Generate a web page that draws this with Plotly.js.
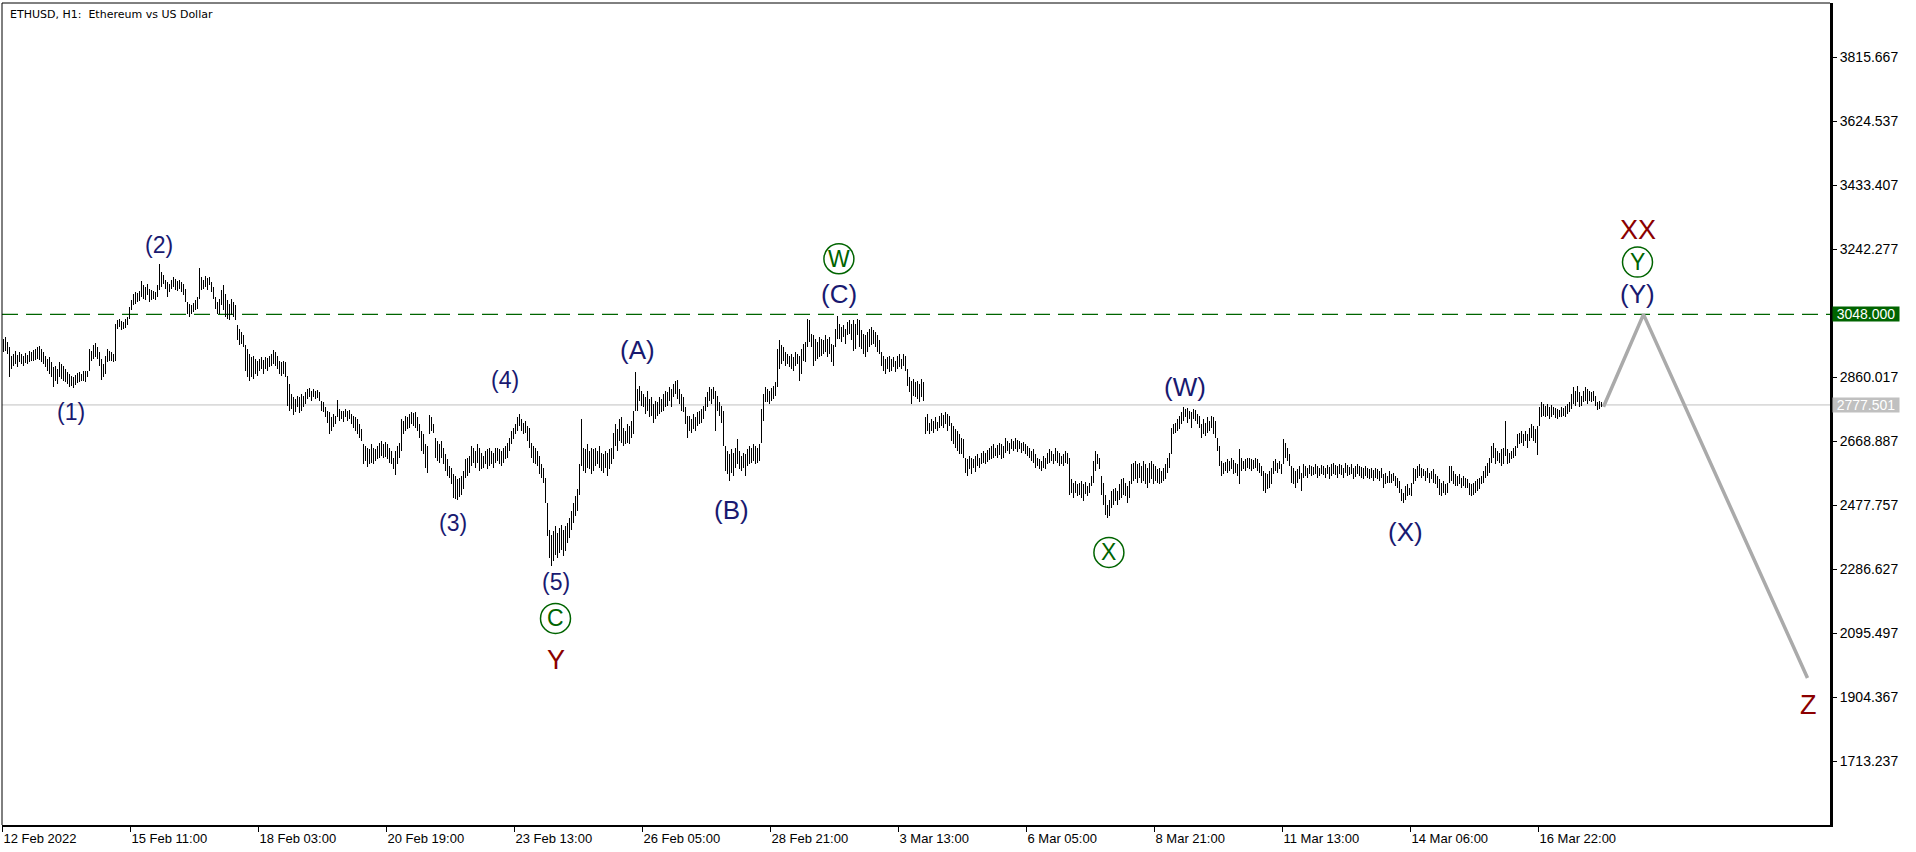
<!DOCTYPE html>
<html><head><meta charset="utf-8">
<script src="https://cdn.plot.ly/plotly-3.0.1.min.js"></script>
<style>html,body{margin:0;padding:0;background:#fff;overflow:hidden}#chart{width:1916px;height:852px}
.scatterlayer .trace:first-child path.js-line{shape-rendering:crispEdges}</style>
</head><body><div id="chart"></div>
<script>
// ETHUSD H1 bars (hourly), index 0 = first bar on the chart
const highs = [
2975,2980,2965,2950,2925,2930,2938,2928,2935,2930,2925,2932,2928,2938,2935,2942,2945,2950,2953,2945,
2935,2925,2915,2920,2905,2890,2895,2885,2905,2900,2895,2885,2875,2870,2865,2860,2868,2872,2875,2870,
2878,2880,2878,2945,2940,2955,2963,2950,2935,2915,2900,2925,2945,2940,2935,2930,3020,3030,3035,3028,
3025,3033,3040,3070,3090,3110,3115,3112,3118,3147,3135,3130,3140,3125,3120,3118,3115,3135,3197,3175,
3165,3150,3145,3140,3150,3160,3155,3148,3152,3145,3140,3125,3085,3080,3075,3082,3090,3100,3187,3160,
3150,3162,3158,3160,3145,3130,3100,3085,3095,3120,3135,3110,3090,3080,3095,3085,3075,3015,3005,2995,
2985,2955,2945,2930,2920,2925,2915,2910,2915,2920,2912,2920,2918,2925,2930,2942,2935,2925,2910,2905,
2910,2905,2865,2840,2810,2800,2795,2805,2800,2810,2805,2815,2825,2827,2820,2825,2818,2822,2815,2790,
2785,2770,2760,2755,2740,2750,2745,2793,2765,2760,2758,2765,2760,2762,2750,2745,2740,2735,2720,2705,
2660,2655,2650,2645,2660,2650,2645,2655,2665,2670,2660,2668,2662,2650,2640,2620,2640,2655,2665,2735,
2730,2745,2740,2750,2755,2752,2755,2740,2720,2700,2690,2660,2655,2747,2740,2722,2680,2670,2660,2670,
2650,2630,2615,2595,2590,2570,2565,2555,2560,2565,2580,2615,2620,2625,2655,2650,2640,2660,2650,2635,
2625,2640,2645,2650,2640,2635,2648,2650,2645,2640,2650,2655,2665,2680,2700,2710,2720,2740,2750,2735,
2725,2730,2715,2710,2665,2655,2650,2640,2625,2600,2590,2560,2485,2405,2390,2400,2415,2395,2410,2420,
2405,2415,2425,2440,2460,2485,2505,2525,2600,2735,2650,2645,2660,2640,2650,2645,2650,2640,2655,2635,
2630,2640,2635,2645,2650,2695,2720,2705,2735,2740,2710,2700,2720,2715,2730,2760,2875,2825,2835,2820,
2810,2800,2820,2795,2800,2780,2790,2785,2800,2795,2810,2820,2815,2830,2825,2840,2850,2853,2825,2810,
2800,2770,2745,2745,2735,2750,2740,2755,2760,2765,2775,2800,2815,2830,2825,2830,2820,2805,2785,2775,
2760,2655,2640,2630,2645,2635,2650,2675,2640,2625,2635,2630,2645,2655,2650,2660,2655,2650,2660,2765,
2810,2830,2825,2820,2828,2835,2845,2945,2970,2955,2950,2935,2930,2925,2930,2920,2935,2930,2925,2945,
2960,2965,3035,3030,2990,2985,2975,2965,2980,2975,2970,2985,2975,2980,2960,2955,3005,3042,3020,3010,
3015,3005,3025,3030,3020,3030,3020,3035,3030,3000,2990,2985,2995,3005,3010,3000,2995,2985,2970,2935,
2925,2915,2920,2925,2915,2920,2910,2925,2930,2915,2930,2925,2885,2860,2850,2855,2845,2850,2840,2855,
2845,2740,2750,2725,2735,2730,2740,2728,2745,2752,2748,2755,2750,2745,2725,2715,2705,2700,2690,2680,
2675,2620,2615,2625,2620,2615,2625,2630,2620,2635,2640,2635,2642,2650,2655,2660,2650,2658,2665,2660,
2655,2680,2670,2665,2675,2670,2678,2672,2670,2665,2668,2660,2655,2650,2640,2645,2630,2620,2615,2610,
2625,2620,2635,2645,2640,2630,2650,2640,2635,2625,2630,2640,2635,2620,2555,2545,2550,2540,2545,2550,
2540,2548,2535,2545,2565,2610,2640,2630,2620,2565,2545,2510,2480,2495,2520,2525,2530,2520,2540,2555,
2560,2545,2535,2550,2600,2605,2610,2600,2605,2595,2610,2600,2590,2605,2610,2600,2595,2585,2590,2580,
2590,2600,2620,2635,2710,2720,2725,2735,2745,2755,2770,2765,2768,2760,2755,2765,2762,2750,2745,2720,
2735,2725,2740,2730,2745,2740,2730,2680,2655,2610,2605,2608,2615,2610,2620,2612,2605,2600,2645,2620,
2610,2615,2620,2618,2615,2612,2618,2615,2605,2595,2580,2575,2570,2580,2590,2610,2615,2605,2610,2600,
2675,2665,2650,2630,2595,2590,2580,2585,2595,2575,2600,2595,2590,2598,2595,2592,2600,2595,2590,2597,
2595,2590,2598,2592,2600,2605,2598,2595,2602,2597,2590,2605,2598,2593,2600,2590,2595,2600,2595,2592,
2588,2595,2590,2585,2590,2583,2590,2585,2580,2588,2570,2575,2565,2580,2570,2575,2565,2560,2550,2525,
2515,2535,2540,2530,2545,2590,2585,2595,2600,2590,2585,2580,2590,2575,2580,2585,2570,2565,2555,2545,
2550,2540,2545,2595,2595,2580,2570,2565,2570,2560,2565,2560,2555,2545,2540,2545,2550,2555,2560,2565,
2580,2595,2605,2620,2655,2665,2650,2640,2635,2645,2650,2730,2645,2635,2640,2650,2655,2690,2695,2700,
2690,2700,2690,2710,2720,2715,2705,2715,2770,2785,2780,2775,2780,2770,2778,2772,2768,2765,2762,2770,
2768,2775,2780,2785,2810,2830,2820,2833,2815,2805,2820,2830,2825,2820,2815,2818,2805,2785,2790,2785
];
const lows = [
2935,2940,2930,2862,2885,2895,2900,2890,2905,2900,2895,2902,2900,2905,2908,2910,2912,2915,2912,2905,
2900,2890,2880,2870,2860,2830,2850,2840,2860,2855,2850,2845,2840,2830,2835,2828,2838,2842,2845,2848,
2850,2845,2860,2880,2910,2915,2920,2915,2895,2853,2860,2870,2905,2910,2908,2905,2910,3005,3010,3000,
3005,3008,3015,3035,3060,3075,3080,3085,3088,3100,3095,3090,3105,3085,3090,3095,3092,3100,3120,3130,
3140,3125,3100,3115,3125,3130,3120,3118,3125,3115,3105,3085,3050,3040,3048,3055,3060,3065,3095,3120,
3125,3130,3120,3135,3115,3095,3065,3050,3048,3075,3060,3040,3035,3030,3045,3040,3030,2970,2955,2960,
2950,2880,2860,2848,2860,2855,2870,2865,2880,2885,2870,2885,2880,2890,2895,2900,2895,2885,2870,2865,
2870,2862,2775,2760,2765,2748,2755,2770,2752,2760,2770,2780,2795,2800,2790,2800,2795,2798,2788,2760,
2755,2740,2725,2690,2700,2712,2720,2740,2730,2735,2728,2740,2730,2735,2720,2710,2700,2690,2680,2670,
2600,2610,2592,2600,2605,2600,2610,2615,2620,2625,2618,2622,2615,2605,2600,2585,2568,2600,2620,2640,
2690,2700,2705,2710,2720,2715,2710,2700,2680,2640,2630,2590,2575,2690,2700,2695,2620,2610,2605,2620,
2600,2580,2565,2560,2540,2500,2498,2495,2502,2510,2525,2560,2565,2575,2595,2605,2590,2605,2580,2585,
2590,2600,2585,2595,2600,2590,2605,2610,2600,2595,2605,2615,2620,2640,2660,2675,2690,2700,2715,2700,
2690,2695,2670,2650,2620,2605,2600,2595,2570,2560,2545,2485,2385,2320,2295,2310,2330,2320,2335,2345,
2325,2340,2365,2380,2405,2425,2445,2460,2510,2595,2580,2575,2590,2585,2570,2580,2595,2600,2590,2580,
2575,2590,2565,2585,2600,2615,2655,2640,2670,2665,2655,2660,2665,2660,2680,2690,2760,2760,2790,2775,
2770,2750,2760,2740,2745,2725,2735,2745,2750,2755,2760,2770,2775,2790,2770,2800,2810,2795,2780,2760,
2755,2720,2680,2700,2695,2705,2700,2715,2720,2725,2735,2760,2770,2790,2780,2795,2700,2760,2745,2725,
2655,2580,2570,2550,2575,2565,2590,2600,2585,2580,2590,2565,2595,2600,2605,2610,2600,2605,2610,2665,
2730,2785,2785,2780,2790,2795,2805,2830,2885,2900,2910,2895,2900,2890,2885,2880,2895,2900,2850,2870,
2910,2905,2950,2965,2950,2895,2910,2915,2920,2925,2930,2935,2920,2930,2905,2895,2950,2975,2975,2965,
2980,2960,2985,2990,2970,2940,2945,2985,2950,2945,2930,2920,2935,2950,2955,2960,2950,2935,2930,2895,
2880,2870,2885,2875,2880,2890,2875,2885,2890,2885,2895,2880,2835,2815,2780,2805,2800,2795,2785,2800,
2790,2690,2700,2690,2700,2695,2705,2700,2710,2715,2710,2720,2700,2715,2670,2660,2650,2640,2630,2630,
2620,2575,2565,2585,2570,2590,2578,2595,2590,2600,2605,2600,2608,2612,2615,2620,2625,2620,2628,2615,
2620,2635,2640,2630,2645,2640,2645,2638,2645,2635,2640,2630,2625,2620,2610,2605,2590,2595,2585,2580,
2590,2585,2600,2605,2610,2600,2610,2605,2595,2600,2595,2605,2600,2510,2515,2500,2515,2505,2510,2500,
2490,2512,2505,2515,2535,2545,2580,2600,2585,2510,2480,2450,2440,2445,2470,2480,2490,2480,2495,2500,
2510,2505,2485,2500,2540,2550,2555,2545,2560,2545,2550,2540,2530,2545,2555,2540,2550,2545,2540,2545,
2550,2555,2575,2590,2630,2690,2695,2700,2705,2720,2730,2740,2725,2735,2710,2735,2730,2720,2710,2680,
2690,2685,2695,2700,2710,2690,2680,2640,2595,2565,2570,2580,2575,2580,2585,2570,2575,2565,2540,2580,
2585,2580,2590,2585,2580,2585,2588,2580,2575,2565,2520,2515,2525,2530,2540,2570,2580,2575,2585,2570,
2600,2620,2610,2595,2545,2540,2530,2545,2555,2520,2560,2565,2558,2570,2565,2568,2572,2560,2565,2570,
2568,2560,2570,2555,2565,2570,2568,2560,2570,2568,2560,2575,2565,2568,2570,2555,2562,2570,2565,2560,
2555,2565,2560,2555,2560,2550,2560,2555,2550,2558,2530,2540,2545,2545,2545,2550,2535,2530,2515,2490,
2485,2495,2505,2510,2505,2540,2550,2560,2565,2560,2565,2550,2560,2545,2555,2545,2540,2530,2510,2505,
2515,2510,2515,2545,2550,2540,2535,2535,2540,2530,2535,2530,2530,2510,2505,2510,2515,2520,2525,2540,
2545,2560,2565,2575,2605,2620,2600,2610,2605,2595,2600,2625,2600,2605,2615,2620,2625,2650,2660,2665,
2655,2670,2650,2670,2680,2670,2665,2627,2715,2740,2745,2740,2745,2735,2742,2748,2738,2735,2742,2740,
2745,2740,2750,2755,2765,2780,2775,2785,2770,2775,2785,2790,2780,2790,2785,2788,2775,2762,2765,2770
];

// time axis labels, one every 64 hourly bars
const timeLabels = ["12 Feb 2022","15 Feb 11:00","18 Feb 03:00","20 Feb 19:00","23 Feb 13:00","26 Feb 05:00",
  "28 Feb 21:00","3 Mar 13:00","6 Mar 05:00","8 Mar 21:00","11 Mar 13:00","14 Mar 06:00","16 Mar 22:00"];
const barsPerLabel = 64;

// price scale labels
const priceTicks = [1713.237,1904.367,2095.497,2286.627,2477.757,2668.887,2860.017,3242.277,3433.407,3624.537,3815.667];

// horizontal levels
const targetLevel = 3048.000;
const currentPrice = 2777.501;

// forecast path (bar index, price)
const forecastIdx = [800, 820, 902];
const forecastPrice = [2772, 3048, 1962];

// Elliott wave labels
const waveText  = ['(1)','(2)','(3)','(4)','(5)','C','Y','(A)','(B)','W','(C)','X','(W)','(X)','XX','Y','(Y)','Z'];
const waveIdx   = [33.8,77.5,224.8,250.7,276,276,276,316.8,363.8,417.7,417.7,552.7,590.5,700.8,817,817,817,902.7];
const wavePrice = [2755,3255,2425,2852,2248,2140,2017,2942,2463,3214,3110,2337,2832,2397,3300,3204,3108,1881];
const waveKind  = ['num','num','num','num','num','circ','red','let','let','circ','let','circ','let','let','red','circ','let','red'];

const NAVY = '#191970', DRED = '#8b0000', DGREEN = '#006400';
const ARIAL = 'Liberation Sans, Arial, sans-serif';

const bx = [], by = [];
for (let i = 0; i < highs.length; i++) { bx.push(i, i, null); by.push(lows[i], highs[i], null); }

const traces = [
  {type:'scatter', mode:'lines', x:bx, y:by, line:{color:'#000', width:1}, hoverinfo:'skip', connectgaps:false},
  {type:'scatter', mode:'lines', x:forecastIdx, y:forecastPrice, line:{color:'#aaaaaa', width:3.5}, hoverinfo:'skip'}
];

const x0 = -0.75, x1 = x0 + 914;
const xTickVals = timeLabels.map((_, k) => x0 + k * barsPerLabel);

const annotations = [];
const shapes = [];
const kindStyle = {
  num:  {color:NAVY, size:23},
  let:  {color:NAVY, size:26},
  circ: {color:DGREEN, size:23},
  red:  {color:DRED, size:27}
};
waveText.forEach((t, i) => {
  const st = kindStyle[waveKind[i]];
  annotations.push({x:waveIdx[i], y:wavePrice[i], xref:'x', yref:'y', text:t, showarrow:false,
    xanchor:'center', yanchor:'middle', font:{family:ARIAL, size:st.size, color:st.color}});
  if (waveKind[i] === 'circ') {
    shapes.push({type:'circle', xref:'x', yref:'y', xsizemode:'pixel', ysizemode:'pixel',
      xanchor:waveIdx[i], yanchor:wavePrice[i], x0:-15, x1:15, y0:-15, y1:15,
      line:{color:DGREEN, width:1.5}, layer:'above'});
  }
});

// title
annotations.push({xref:'paper', yref:'paper', x:0, y:1, xanchor:'left', yanchor:'top', xshift:6, yshift:-3,
  text:'ETHUSD, H1:\u00a0 Ethereum vs US Dollar', showarrow:false, font:{family:'DejaVu Sans, sans-serif', size:11, color:'#000'}});

// price boxes on the scale
annotations.push({xref:'paper', yref:'y', x:1, y:targetLevel, xanchor:'left', yanchor:'middle', xshift:2,
  text:targetLevel.toFixed(3), showarrow:false, bgcolor:DGREEN, width:66, height:14, borderpad:0,
  font:{family:ARIAL, size:14, color:'#fff'}});
annotations.push({xref:'paper', yref:'y', x:1, y:currentPrice, xanchor:'left', yanchor:'middle', xshift:2,
  text:currentPrice.toFixed(3), showarrow:false, bgcolor:'#c0c0c0', width:66, height:14, borderpad:0,
  font:{family:ARIAL, size:14, color:'#fff'}});

// levels
shapes.push({type:'line', xref:'paper', yref:'y', x0:0, x1:1, y0:targetLevel, y1:targetLevel,
  line:{color:DGREEN, width:1.2, dash:'16px,8px'}, layer:'below'});
shapes.push({type:'line', xref:'paper', yref:'y', x0:0, x1:1, y0:currentPrice, y1:currentPrice,
  line:{color:'#c0c0c0', width:1}, layer:'below'});
// frame (left and top)
shapes.push({type:'line', xref:'paper', yref:'paper', x0:0, x1:0, y0:0, y1:1, line:{color:'#000', width:1}});
shapes.push({type:'line', xref:'paper', yref:'paper', x0:0, x1:1, y0:1, y1:1, line:{color:'#000', width:1}});

const layout = {
  width:1916, height:852,
  margin:{l:2, r:86, t:3, b:27, pad:0},
  paper_bgcolor:'#fff', plot_bgcolor:'#fff',
  showlegend:false,
  xaxis:{range:[x0, x1], tickvals:xTickVals, ticktext:timeLabels, ticks:'outside', ticklen:5, tickcolor:'#000',
    tickwidth:1, showgrid:false, zeroline:false, showline:true, linecolor:'#000', linewidth:2,
    ticklabelposition:'outside right', tickfont:{family:ARIAL, size:13, color:'#000'}, fixedrange:true},
  yaxis:{side:'right', range:[1523.0, 3977.8], tickvals:priceTicks, ticktext:priceTicks.map(v => v.toFixed(3)),
    ticks:'outside', ticklen:4, tickcolor:'#000', showgrid:false, zeroline:false, showline:true,
    linecolor:'#000', linewidth:3, tickfont:{family:ARIAL, size:14, color:'#000'}, fixedrange:true},
  annotations:annotations,
  shapes:shapes
};

Plotly.newPlot('chart', traces, layout, {displayModeBar:false, staticPlot:true});
</script>
</body></html>
